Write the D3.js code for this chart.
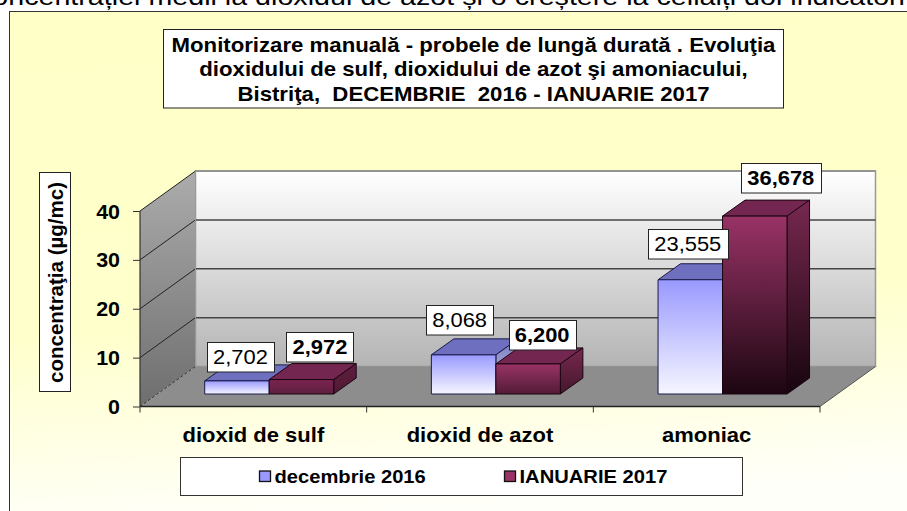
<!DOCTYPE html>
<html><head><meta charset="utf-8">
<script src="https://cdn.jsdelivr.net/npm/d3@7"></script>
<style>html,body{margin:0;padding:0;background:#fff;overflow:hidden}svg{display:block;font-family:"Liberation Sans",Arial,sans-serif}</style>
</head><body><svg id="c" width="907" height="511"></svg>
<script>
const categories = ["dioxid de sulf", "dioxid de azot", "amoniac"];
const seriesNames = ["decembrie 2016", "IANUARIE 2017"];
const dec2016 = [2.702, 8.068, 23.555];
const ian2017 = [2.972, 6.200, 36.678];
const yTicks = [0, 10, 20, 30, 40];
const titleLines = ["Monitorizare manuală - probele de lungă durată . Evoluţia",
  "dioxidului de sulf, dioxidului de azot şi amoniacului,",
  "Bistriţa,  DECEMBRIE  2016 - IANUARIE 2017"];
const yTitle = "concentraţia (µg/mc)";
const clippedLine = "concentrației medii la dioxidul de azot și o creștere la ceilalți doi indicatori";

const svg = d3.select("#c");
const defs = svg.append("defs");
function grad(id, c1, c2) {
  const g = defs.append("linearGradient").attr("id", id).attr("x1", 0).attr("y1", 0).attr("x2", 0).attr("y2", 1);
  [[0, c1], [1, c2]].forEach(s => g.append("stop").attr("offset", s[0]).attr("stop-color", s[1]));
}
const bgG = defs.append("linearGradient").attr("id", "bg").attr("x1", 0).attr("y1", 0).attr("x2", 0.12).attr("y2", 1);
[[0, "#ffffc8"], [0.62, "#ffffcc"], [1, "#fffffa"]].forEach(s => bgG.append("stop").attr("offset", s[0]).attr("stop-color", s[1]));
grad("wall", "#ffffff", "#b4b4b4");
grad("side", "#acacac", "#6e6e6e");

// horizontally stretched text, as the reference image is
function sText(parent, ax, ay, sx, txt, size, bold, anchor) {
  return parent.append("text").attr("transform", `translate(${ax},${ay}) scale(${sx},1)`)
    .attr("text-anchor", anchor || "middle").attr("font-size", size)
    .attr("font-weight", bold ? "bold" : "normal").attr("xml:space", "preserve").style("white-space", "pre").attr("fill", "#000").text(txt);
}

// page text and panel
sText(svg, 905, 4.5, 1.17, clippedLine, 24.5, false, "end");
svg.append("rect").attr("x", 9.5).attr("y", 11.5).attr("width", 920).attr("height", 520).attr("fill", "url(#bg)").attr("stroke", "#333").attr("stroke-width", 1);

// scales
const x = d3.scaleBand().domain(categories).range([140, 820]);
const y = d3.scaleLinear().domain([0, 40]).range([406.5, 211]);
const barY = d3.scaleLinear().domain([0, 40]).range([394, 200]);
const inner = d3.scaleBand().domain([0, 1]).range([64.7, 193.7]);
const depth = {dx: 55.5, dy: 40};
const barDepth = {dx: 22.5, dy: 16};

// walls and floor
const g3 = svg.append("g");
const L = x.range()[0], R = x.range()[1], B = y(0), T = y(40);
const poly = (pts, fill, stroke, sw) => g3.append("polygon").attr("points", pts.map(p => p.join(",")).join(" ")).attr("fill", fill).attr("stroke", stroke || "none").attr("stroke-width", sw || 1);
poly([[L + depth.dx, T - depth.dy], [R + depth.dx, T - depth.dy], [R + depth.dx, B - depth.dy], [L + depth.dx, B - depth.dy]], "url(#wall)", "#999", 1.5);
poly([[L, T], [L + depth.dx, T - depth.dy], [L + depth.dx, B - depth.dy], [L, B]], "url(#side)");
poly([[L, B], [L + depth.dx, B - depth.dy], [R + depth.dx, B - depth.dy], [R, B]], "#8d8d8d");
yTicks.filter(t => t > 0).forEach(t => {
  g3.append("line").attr("x1", L + depth.dx).attr("x2", R + depth.dx).attr("y1", y(t) - depth.dy).attr("y2", y(t) - depth.dy).attr("stroke", t === 40 ? "#8a8a8a" : "#444").attr("stroke-width", 1.5);
  g3.append("line").attr("x1", L).attr("x2", L + depth.dx).attr("y1", y(t)).attr("y2", y(t) - depth.dy).attr("stroke", "#222").attr("stroke-width", 1);
});
g3.append("line").attr("x1", L).attr("x2", L + depth.dx).attr("y1", B).attr("y2", B - depth.dy).attr("stroke", "#333").attr("stroke-dasharray", "3,2");
g3.append("line").attr("x1", L + depth.dx).attr("x2", L + depth.dx).attr("y1", T - depth.dy).attr("y2", B - depth.dy).attr("stroke", "#999");
g3.append("line").attr("x1", R).attr("x2", R + depth.dx).attr("y1", B).attr("y2", B - depth.dy).attr("stroke", "#555");

// axes
const axL = svg.append("g").attr("transform", `translate(${L},0)`).call(d3.axisLeft(y).tickValues(yTicks).tickSize(7).tickPadding(13).tickFormat(d3.format("d")));
axL.select(".domain").attr("stroke", "#333").attr("stroke-width", 1.2).attr("d", `M0,${T}V${B}`);
axL.selectAll(".tick line").attr("stroke", "#333");
axL.selectAll("text").attr("font-family", "Liberation Sans").attr("font-size", 19.5).attr("font-weight", "bold").attr("fill", "#000").attr("dy", "0.36em")
  .attr("x", 0).attr("transform", "translate(-20,0) scale(1.1,1)");
const axB = svg.append("g").attr("transform", `translate(0,${B})`).call(d3.axisBottom(x).tickSize(0).tickPadding(21));
axB.select(".domain").attr("stroke", "#222").attr("stroke-width", 1.4).attr("d", `M${L},0H${R}`);
axB.selectAll("text").attr("font-family", "Liberation Sans").attr("font-size", 20).attr("font-weight", "bold").attr("fill", "#000").attr("dy", "0.71em")
  .attr("transform", "scale(1.1,1)");
[0, 1, 2, 3].forEach(i => svg.append("line").attr("x1", L + i * x.step()).attr("x2", L + i * x.step()).attr("y1", B).attr("y2", B + 6).attr("stroke", "#333"));

// bars
const series = [
  {values: dec2016, top: "#9999ff", topFace: "#6f6fbf", bottomOf: () => "#f6f6ff", stroke: "#1a1a4a"},
  {values: ian2017, top: "#993366", topFace: "#732650", bottomOf: v => d3.interpolateRgb("#6a2446", "#1c0611")(Math.min(1, v / 20)), stroke: "#1a0510"}
];
const fmt = d3.formatLocale({decimal: ",", thousands: ".", grouping: [3], currency: ["", ""]}).format(".3f");
const barsG = svg.append("g");
function drawBar(s, si, ci) {
  const v = s.values[ci], c = categories[ci];
  const x0 = x(c) + inner(si), x1 = x0 + inner.bandwidth();
  const yb = barY(0), yt = barY(v);
  const id = `b${si}${ci}`, sid = `s${si}${ci}`;
  const bot = s.bottomOf(v);
  const topCol = (si === 1 && v < 4) ? "#7a2450" : s.top;
  grad(id, topCol, bot);
  grad(sid, d3.color(topCol).darker(0.7).formatHex(), d3.color(bot).darker(0.5).formatHex());
  const g = barsG.append("g").attr("stroke", s.stroke).attr("stroke-width", 1).attr("stroke-linejoin", "round");
  g.append("polygon").attr("points", `${x0},${yt} ${x0 + barDepth.dx},${yt - barDepth.dy} ${x1 + barDepth.dx},${yt - barDepth.dy} ${x1},${yt}`).attr("fill", s.topFace);
  g.append("polygon").attr("points", `${x1},${yt} ${x1 + barDepth.dx},${yt - barDepth.dy} ${x1 + barDepth.dx},${yb - barDepth.dy} ${x1},${yb}`).attr("fill", `url(#${sid})`);
  g.append("rect").attr("x", x0).attr("y", yt).attr("width", inner.bandwidth()).attr("height", yb - yt).attr("fill", `url(#${id})`);
}
categories.forEach((c, ci) => series.forEach((s, si) => drawBar(s, si, ci)));

// hand-placed data labels, as in the reference (offset from bar-top centre)
const labelNudge = [[[3.5, -24], [18.5, -33]], [[-4, -35], [14, -29]], [[-2.5, -36], [26, -38]]];
function boxText(cx, cy, w, h, txt, size, bold) {
  svg.append("rect").attr("x", Math.round(cx - w / 2) + .5).attr("y", Math.round(cy - h / 2) + .5).attr("width", w).attr("height", h).attr("fill", "#fff").attr("stroke", "#222").attr("stroke-width", 1);
  sText(svg, cx, cy + size * 0.36, 1.07, txt, size, bold);
}
categories.forEach((c, ci) => series.forEach((s, si) => {
  const v = s.values[ci], n = labelNudge[ci][si];
  const cx = x(c) + inner(si) + inner.bandwidth() / 2 + n[0], cy = barY(v) + n[1];
  boxText(cx, cy, ci === 2 ? 80 : 67, 29.5, fmt(v), 20.5, si === 1);
}));

// title
svg.append("rect").attr("x", 163.5).attr("y", 29.5).attr("width", 620).attr("height", 78.5).attr("fill", "#fff").attr("stroke", "#222").attr("stroke-width", 1);
titleLines.forEach((t, i) => sText(svg, 473.5, 51.5 + i * 24.5, 1.11, t, 20, true));

// y title
svg.append("rect").attr("x", 39.5).attr("y", 172.5).attr("width", 31).attr("height", 219).attr("fill", "#fff").attr("stroke", "#222").attr("stroke-width", 1);
svg.append("text").attr("transform", "translate(62.5,282.5) rotate(-90)").attr("text-anchor", "middle").attr("font-size", 20.5).attr("font-weight", "bold").attr("fill", "#000").text(yTitle);

// legend
svg.append("rect").attr("x", 180.5).attr("y", 457.5).attr("width", 562).attr("height", 38).attr("fill", "#fff").attr("stroke", "#333").attr("stroke-width", 1);
const legendG = svg.append("g");
const legendX = d3.scaleOrdinal().domain(seriesNames).range([259.5, 504.5]);
seriesNames.forEach((n, i) => {
  const lx = legendX(n);
  legendG.append("rect").attr("x", lx).attr("y", 471).attr("width", 11).attr("height", 10.5).attr("fill", series[i].top).attr("stroke", "#111").attr("stroke-width", 1.3);
  sText(legendG, lx + 15, 483, 1.09, n, 18.5, true, "start");
});
</script></body></html>
